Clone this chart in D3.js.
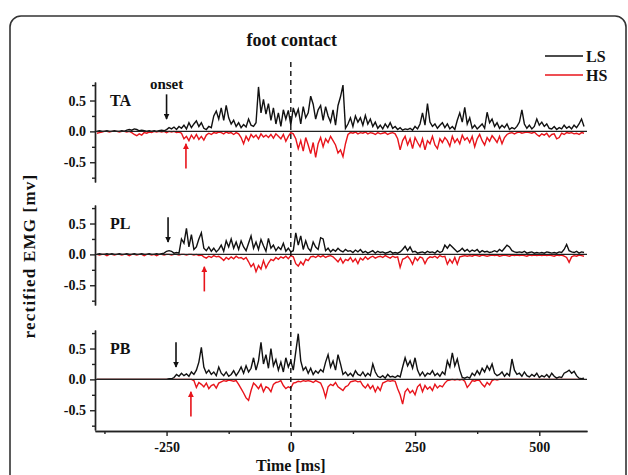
<!DOCTYPE html>
<html>
<head>
<meta charset="utf-8">
<script src="https://cdn.jsdelivr.net/npm/d3@7"></script>
<style>
  body { margin: 0; background: #fff; }
  text { font-family: "Liberation Serif", "DejaVu Serif", serif; font-weight: bold; fill: #111; }
</style>
</head>
<body>
<div id="chart"></div>
<script>
// time axis: samples every 5 ms from -390 to 590
var t_start = -390, t_step = 5;

var muscles = ['TA', 'PL', 'PB'];
var xMajor = [-250, 0, 250, 500];
var xMinor = [-375, -125, 125, 375];
var yMajor = [-0.5, 0, 0.5];
var yMinor = [-0.75, -0.25, 0.25, 0.75];

// onset arrows (ms)
var onsetLS = [-250, -247, -231];
var onsetHS = [-211, -174, -201];

// rectified EMG, LS (black) and HS (red, drawn negative)
var ta_ls = [
  0,0.01,0,0,0.01,0,0,0.01,0,0,
  0.01,0,0.02,0.03,0.02,0.04,0.03,0.01,0.02,0.01,
  0,0.01,0,0.01,0,0.01,0.02,0.01,0.03,0.06,
  0.04,0.07,0.03,0.08,0.05,0.1,0.04,0.14,0.06,0.12,
  0.17,0.08,0.14,0.05,0.03,0.08,0.06,0.25,0.33,0.2,
  0.38,0.18,0.42,0.22,0.12,0.18,0.08,0.14,0.06,0.11,
  0.07,0.2,0.1,0.08,0.14,0.72,0.3,0.52,0.28,0.45,
  0.18,0.38,0.12,0.3,0.08,0.35,0.2,0.34,0.1,0.38,
  0.25,0.36,0.12,0.4,0.22,0.3,0.57,0.44,0.2,0.35,
  0.42,0.18,0.4,0.25,0.15,0.35,0.1,0.42,0.56,0.75,
  0.05,0.12,0.22,0.08,0.25,0.15,0.22,0.1,0.26,0.12,
  0.2,0.08,0.15,0.05,0.1,0.04,0.12,0.06,0.14,0.05,
  0.08,0.03,0.06,0.02,0.04,0.03,0.05,0.02,0.08,0.04,
  0.12,0.3,0.1,0.45,0.15,0.08,0.12,0.05,0.1,0.14,
  0.06,0.12,0.04,0.08,0.03,0.18,0.3,0.15,0.39,0.12,
  0.22,0.05,0.1,0.04,0.08,0.12,0.05,0.31,0.14,0.2,
  0.08,0.14,0.05,0.1,0.06,0.12,0.03,0.06,0.04,0.08,
  0.15,0.35,0.12,0.05,0.1,0.04,0.08,0.2,0.1,0.15,
  0.08,0.12,0.05,0.04,0.08,0.03,0.06,0.04,0.1,0.05,
  0.08,0.04,0.1,0.06,0.12,0.2,0.08
];
var ta_hs = [
  -0.03,-0.02,-0.01,0,0,-0.01,0,0,0,-0.01,
  0,0,-0.01,0,-0.02,-0.05,-0.07,-0.04,-0.06,-0.02,
  -0.03,-0.01,-0.02,0,-0.01,0,-0.01,0,-0.02,0,
  -0.01,0,-0.02,-0.01,-0.03,-0.12,-0.08,-0.15,-0.06,-0.12,
  -0.05,-0.13,-0.08,-0.14,-0.06,-0.03,-0.05,-0.02,-0.03,-0.01,
  -0.02,-0.04,-0.01,-0.03,-0.02,-0.05,-0.02,-0.04,-0.1,-0.2,
  -0.08,-0.15,-0.05,-0.1,-0.06,-0.12,-0.04,-0.09,-0.06,-0.1,
  -0.05,-0.11,-0.04,-0.08,-0.12,-0.05,-0.16,-0.08,-0.02,-0.04,
  -0.12,-0.28,-0.15,-0.32,-0.1,-0.22,-0.36,-0.18,-0.42,-0.2,
  -0.1,-0.25,-0.12,-0.18,-0.08,-0.15,-0.22,-0.35,-0.3,-0.41,
  -0.2,-0.05,-0.02,-0.03,-0.01,-0.04,-0.02,-0.03,-0.01,-0.04,
  -0.02,-0.03,-0.05,-0.02,-0.04,-0.03,-0.02,-0.05,-0.03,-0.02,
  -0.04,-0.12,-0.3,-0.15,-0.08,-0.22,-0.12,-0.28,-0.1,-0.18,
  -0.25,-0.12,-0.3,-0.15,-0.2,-0.08,-0.22,-0.28,-0.12,-0.18,
  -0.1,-0.15,-0.24,-0.08,-0.18,-0.12,-0.2,-0.06,-0.14,-0.1,
  -0.18,-0.08,-0.25,-0.12,-0.05,-0.15,-0.22,-0.1,-0.16,-0.07,
  -0.12,-0.18,-0.08,-0.2,-0.1,-0.05,-0.03,-0.02,-0.04,-0.02,
  -0.01,-0.03,-0.02,-0.01,-0.02,-0.03,-0.01,-0.05,-0.08,-0.04,
  -0.06,-0.03,-0.09,-0.05,-0.04,-0.12,-0.1,-0.03,-0.05,-0.02,
  -0.03,-0.02,-0.04,-0.03,-0.05,-0.02,-0.03
];
var pl_ls = [
  0,0.01,0,0,0.01,0,0.01,0,0,0.01,
  0,0,0.01,0,0,0.01,0,0,0.01,0,
  0,0.01,0,0,0.01,0,0.01,0.02,0.05,0.06,
  0.05,0.02,0.03,0.02,0.25,0.18,0.42,0.12,0.32,0.08,
  0.12,0.25,0.35,0.1,0.06,0.12,0.05,0.1,0.04,0.08,
  0.15,0.05,0.22,0.12,0.25,0.1,0.2,0.08,0.22,0.12,
  0.06,0.18,0.3,0.1,0.2,0.08,0.24,0.14,0.05,0.26,
  0.1,0.15,0.06,0.12,0.08,0.18,0.05,0.1,0.04,0.06,
  0.35,0.15,0.3,0.08,0.22,0.1,0.05,0.2,0.12,0.08,
  0.27,0.25,0.06,0.1,0.04,0.08,0.05,0.1,0.06,0.04,
  0.08,0.05,0.06,0.03,0.07,0.04,0.08,0.03,0.05,0.02,
  0.04,0.06,0.02,0.05,0.03,0.04,0.02,0.03,0.05,0.02,
  0.03,0.02,0.04,0.08,0.13,0.06,0.12,0.04,0.05,0.02,
  0.03,0.04,0.02,0.05,0.03,0.04,0.02,0.06,0.03,0.05,
  0.15,0.1,0.16,0.12,0.08,0.04,0.06,0.1,0.05,0.08,
  0.04,0.07,0.05,0.08,0.03,0.06,0.04,0.05,0.03,0.04,
  0.06,0.04,0.08,0.05,0.1,0.15,0.12,0.06,0.04,0.03,
  0.04,0.03,0.05,0.02,0.03,0.04,0.02,0.03,0.02,0.03,
  0.02,0.04,0.03,0.02,0.03,0.02,0.04,0.03,0.08,0.16,
  0.06,0.04,0.03,0.05,0.02,0.04,0.03
];
var pl_hs = [
  0,-0.01,0,0,-0.02,0,0,-0.01,0,0,
  -0.01,0,0,-0.02,0,0,-0.01,0,0,-0.02,
  0,0,-0.01,0,-0.02,0,0,-0.01,0,0,
  -0.01,0,0,-0.01,0,0,-0.01,0,0,-0.01,
  0,-0.02,-0.01,-0.04,-0.06,-0.03,-0.05,-0.02,-0.04,-0.03,
  -0.06,-0.1,-0.05,-0.08,-0.04,-0.07,-0.03,-0.06,-0.05,-0.08,
  -0.05,-0.12,-0.2,-0.15,-0.28,-0.18,-0.24,-0.1,-0.22,-0.14,
  -0.08,-0.1,-0.05,-0.08,-0.04,-0.06,-0.03,-0.07,-0.02,-0.04,
  -0.15,-0.19,-0.12,-0.17,-0.08,-0.1,-0.04,-0.03,-0.05,-0.02,
  -0.04,-0.02,-0.05,-0.03,-0.02,-0.04,-0.08,-0.12,-0.06,-0.14,
  -0.08,-0.1,-0.05,-0.12,-0.07,-0.15,-0.06,-0.09,-0.04,-0.08,
  -0.05,-0.03,-0.06,-0.04,-0.03,-0.05,-0.02,-0.04,-0.06,-0.03,
  -0.05,-0.04,-0.21,-0.08,-0.06,-0.03,-0.08,-0.16,-0.05,-0.1,
  -0.04,-0.06,-0.15,-0.07,-0.04,-0.05,-0.03,-0.06,-0.02,-0.04,
  -0.03,-0.16,-0.08,-0.14,-0.05,-0.16,-0.04,-0.03,-0.02,-0.03,
  -0.02,-0.03,-0.01,-0.02,-0.03,-0.01,-0.02,-0.03,-0.02,-0.01,
  -0.02,-0.01,-0.03,-0.02,-0.01,-0.02,-0.03,-0.01,-0.02,-0.01,
  -0.02,-0.01,-0.02,-0.03,-0.01,-0.02,-0.01,-0.02,-0.01,-0.02,
  -0.01,-0.02,-0.01,-0.02,-0.03,-0.01,-0.02,-0.01,-0.03,-0.05,
  -0.13,-0.04,-0.02,-0.03,-0.01,-0.02,-0.03
];
var pb_ls = [
  0,0,0,0,0,0,0,0,0,0,
  0,0,0,0,0,0,0,0,0,0,
  0,0,0,0,0,0,0,0,0,0.01,
  0.01,0.03,0.08,0.05,0.1,0.06,0.09,0.05,0.12,0.08,
  0.15,0.28,0.52,0.2,0.1,0.15,0.08,0.12,0.06,0.2,
  0.1,0.06,0.12,0.05,0.08,0.14,0.06,0.12,0.2,0.1,
  0.22,0.12,0.18,0.35,0.15,0.3,0.6,0.25,0.4,0.18,
  0.5,0.22,0.32,0.15,0.28,0.12,0.35,0.2,0.3,0.15,
  0.45,0.74,0.3,0.15,0.2,0.1,0.18,0.08,0.14,0.1,
  0.16,0.12,0.28,0.4,0.2,0.3,0.15,0.4,0.25,0.08,
  0.12,0.06,0.1,0.05,0.14,0.08,0.06,0.12,0.05,0.1,
  0.06,0.25,0.12,0.05,0.03,0.06,0.02,0.08,0.04,0.05,
  0.03,0.06,0.04,0.2,0.35,0.22,0.3,0.18,0.35,0.15,
  0.06,0.12,0.05,0.1,0.08,0.14,0.06,0.1,0.05,0.12,
  0.08,0.3,0.2,0.43,0.22,0.33,0.15,0.03,0.02,0.04,
  0.02,0.1,0.06,0.14,0.08,0.18,0.12,0.22,0.15,0.25,
  0.1,0.06,0.08,0.12,0.05,0.1,0.06,0.33,0.15,0.08,
  0.1,0.05,0.12,0.06,0.04,0.08,0.05,0.1,0.03,0.06,
  0.04,0.08,0.03,0.1,0.05,0.02,0.04,0.03,0.1,0.12,
  0.15,0.1,0.13,0.06,0.02,0.01,0.02
];
var pb_hs = [
  0,0,0,0,0,0,0,0,0,0,
  0,0,0,0,0,0,0,0,0,0,
  0,0,0,0,0,0,0,0,0,0,
  0,0,0,0,0,0,0,0,0,-0.02,
  -0.13,-0.05,-0.08,-0.12,-0.06,-0.15,-0.1,-0.08,-0.14,-0.06,
  -0.04,-0.02,-0.03,-0.01,-0.02,-0.03,-0.02,-0.08,-0.15,-0.22,
  -0.3,-0.34,-0.18,-0.06,-0.1,-0.15,-0.08,-0.2,-0.12,-0.14,
  -0.2,-0.08,-0.05,-0.04,-0.02,-0.1,-0.15,-0.12,-0.14,-0.06,
  -0.05,-0.03,-0.04,-0.02,-0.03,-0.02,-0.03,-0.05,-0.02,-0.04,
  -0.06,-0.15,-0.29,-0.12,-0.08,-0.1,-0.05,-0.12,-0.15,-0.18,
  -0.12,-0.1,-0.04,-0.03,-0.02,-0.04,-0.03,-0.1,-0.14,-0.08,
  -0.15,-0.1,-0.2,-0.12,-0.18,-0.06,-0.04,-0.02,-0.03,-0.02,
  -0.03,-0.15,-0.25,-0.4,-0.2,-0.15,-0.22,-0.18,-0.25,-0.12,
  -0.08,-0.2,-0.1,-0.16,-0.12,-0.18,-0.08,-0.14,-0.1,-0.12,
  -0.06,-0.02,-0.01,0,-0.01,0,-0.01,0,-0.03,-0.13,
  -0.08,-0.02,-0.03,-0.01,-0.02,-0.08,-0.12,-0.05,-0.09,-0.02,
  0,-0.01,0,0,0,0,0,0,0,0,
  0,0,0,0,0,0,0,0,0,0,
  0,0,0,0,0,0,0,0,0,0,
  0,0,0,0,0,0,0
];
var ls_series = [ta_ls, pl_ls, pb_ls];
var hs_series = [ta_hs, pl_hs, pb_hs];

// setup
var width = 628, height = 475;
var panel_top = [82, 205, 330];
var panel_height = 100;

var svg = d3.select('#chart').append('svg')
    .attr('width', width).attr('height', height);

svg.append('defs').selectAll('marker')
    .data([['head_black', '#111'], ['head_red', '#e8141b']]).enter()
    .append('marker')
    .attr('id', function(d) { return d[0]; })
    .attr('viewBox', '0 0 10 10').attr('refX', 9).attr('refY', 5)
    .attr('markerWidth', 6).attr('markerHeight', 6)
    .attr('markerUnits', 'userSpaceOnUse')
    .attr('orient', 'auto')
    .append('path').attr('d', 'M0,0L10,5L0,10Z')
    .attr('fill', function(d) { return d[1]; });

// frame
svg.append('rect')
    .attr('x', 10).attr('y', 16).attr('width', 616).attr('height', 490)
    .attr('rx', 11).attr('fill', 'none').attr('stroke', '#333').attr('stroke-width', 1.6);

var x = d3.scaleLinear().domain([-394, 596]).range([95, 587]);

var time = function(i) { return t_start + i * t_step; };

muscles.forEach(function(m, k) {
    var y = d3.scaleLinear().domain([-0.82, 0.8])
        .range([panel_top[k] + panel_height, panel_top[k]]);
    var g = svg.append('g');

    var line = d3.line()
        .x(function(d, i) { return x(time(i)); })
        .y(function(d) { return y(d); });

    g.append('path').datum(hs_series[k])
        .attr('d', line).attr('fill', 'none')
        .attr('stroke', '#e8141b').attr('stroke-width', 1.4);
    g.append('path').datum(ls_series[k])
        .attr('d', line).attr('fill', 'none')
        .attr('stroke', '#111').attr('stroke-width', 1.4);

    // zero line
    g.append('line')
        .attr('x1', x(-394)).attr('x2', x(596))
        .attr('y1', y(0)).attr('y2', y(0))
        .attr('stroke', '#222').attr('stroke-width', 1.4);

    // y axis
    var ax = g.append('g').attr('transform', 'translate(' + x(-394) + ',0)')
        .call(d3.axisLeft(y).tickValues(yMajor).tickSize(5).tickSizeOuter(0)
            .tickFormat(function(d) { return d.toFixed(1); }));
    g.append('g').attr('transform', 'translate(' + x(-394) + ',0)')
        .call(d3.axisLeft(y).tickValues(yMinor).tickSize(3).tickSizeOuter(0)
            .tickFormat(''));
    g.selectAll('.domain, .tick line').attr('stroke', '#222').attr('stroke-width', 1.4);
    ax.selectAll('text')
        .attr('font-size', 14).attr('font-family', '"Liberation Serif", serif')
        .attr('font-weight', 'bold').attr('fill', '#111').attr('dx', -1);

    // muscle label
    g.append('text').attr('x', 110).attr('y', y(0.5) + 5)
        .attr('font-size', 16).text(m);

    // onset arrows
    g.append('line')
        .attr('x1', x(onsetLS[k])).attr('x2', x(onsetLS[k]))
        .attr('y1', y(0.6)).attr('y2', y(0.2))
        .attr('stroke', '#111').attr('stroke-width', 1.6)
        .attr('marker-end', 'url(#head_black)');
    g.append('line')
        .attr('x1', x(onsetHS[k])).attr('x2', x(onsetHS[k]))
        .attr('y1', y(-0.6)).attr('y2', y(-0.2))
        .attr('stroke', '#e8141b').attr('stroke-width', 1.6)
        .attr('marker-end', 'url(#head_red)');

    if (k == 0) {
        g.append('text').attr('x', x(onsetLS[k])).attr('y', y(0.6) - 5)
            .style('text-anchor', 'middle').attr('font-size', 15).text('onset');
    }
});

// x axis
var x_axis_y = 431;
var xa = svg.append('g').attr('transform', 'translate(0,' + x_axis_y + ')')
    .call(d3.axisBottom(x).tickValues(xMajor).tickSize(5).tickSizeOuter(0)
        .tickFormat(function(d) { return d; }));
var xm = svg.append('g').attr('transform', 'translate(0,' + x_axis_y + ')')
    .call(d3.axisBottom(x).tickValues(xMinor).tickSize(3).tickSizeOuter(0).tickFormat(''));
svg.selectAll('.domain, .tick line').attr('stroke', '#222').attr('stroke-width', 1.4);
xa.selectAll('text')
    .attr('font-size', 14).attr('font-family', '"Liberation Serif", serif')
    .attr('font-weight', 'bold').attr('fill', '#111').attr('dy', '0.95em');

// foot contact
svg.append('line')
    .attr('x1', x(0)).attr('x2', x(0)).attr('y1', 62).attr('y2', x_axis_y)
    .attr('stroke', '#111').attr('stroke-width', 1.4).attr('stroke-dasharray', '5,4');
svg.append('text').attr('x', x(0) + 1).attr('y', 46)
    .style('text-anchor', 'middle').attr('font-size', 18).text('foot contact');

// axis titles
svg.append('text').attr('x', x(0)).attr('y', 471)
    .style('text-anchor', 'middle').attr('font-size', 16).text('Time [ms]');
svg.append('text')
    .attr('transform', 'translate(35,256) rotate(-90)')
    .style('text-anchor', 'middle').attr('font-size', 17)
    .attr('letter-spacing', 1.2).text('rectified EMG [mv]');

// legend
var legend = [['LS', '#111'], ['HS', '#e8141b']];
var lg = svg.selectAll('.legend').data(legend).enter().append('g');
lg.append('line')
    .attr('x1', 545).attr('x2', 583)
    .attr('y1', function(d, i) { return 56 + i * 19; })
    .attr('y2', function(d, i) { return 56 + i * 19; })
    .attr('stroke', function(d) { return d[1]; }).attr('stroke-width', 1.6);
lg.append('text').attr('x', 586)
    .attr('y', function(d, i) { return 62 + i * 19; })
    .attr('font-size', 16).text(function(d) { return d[0]; });
</script>
</body>
</html>
